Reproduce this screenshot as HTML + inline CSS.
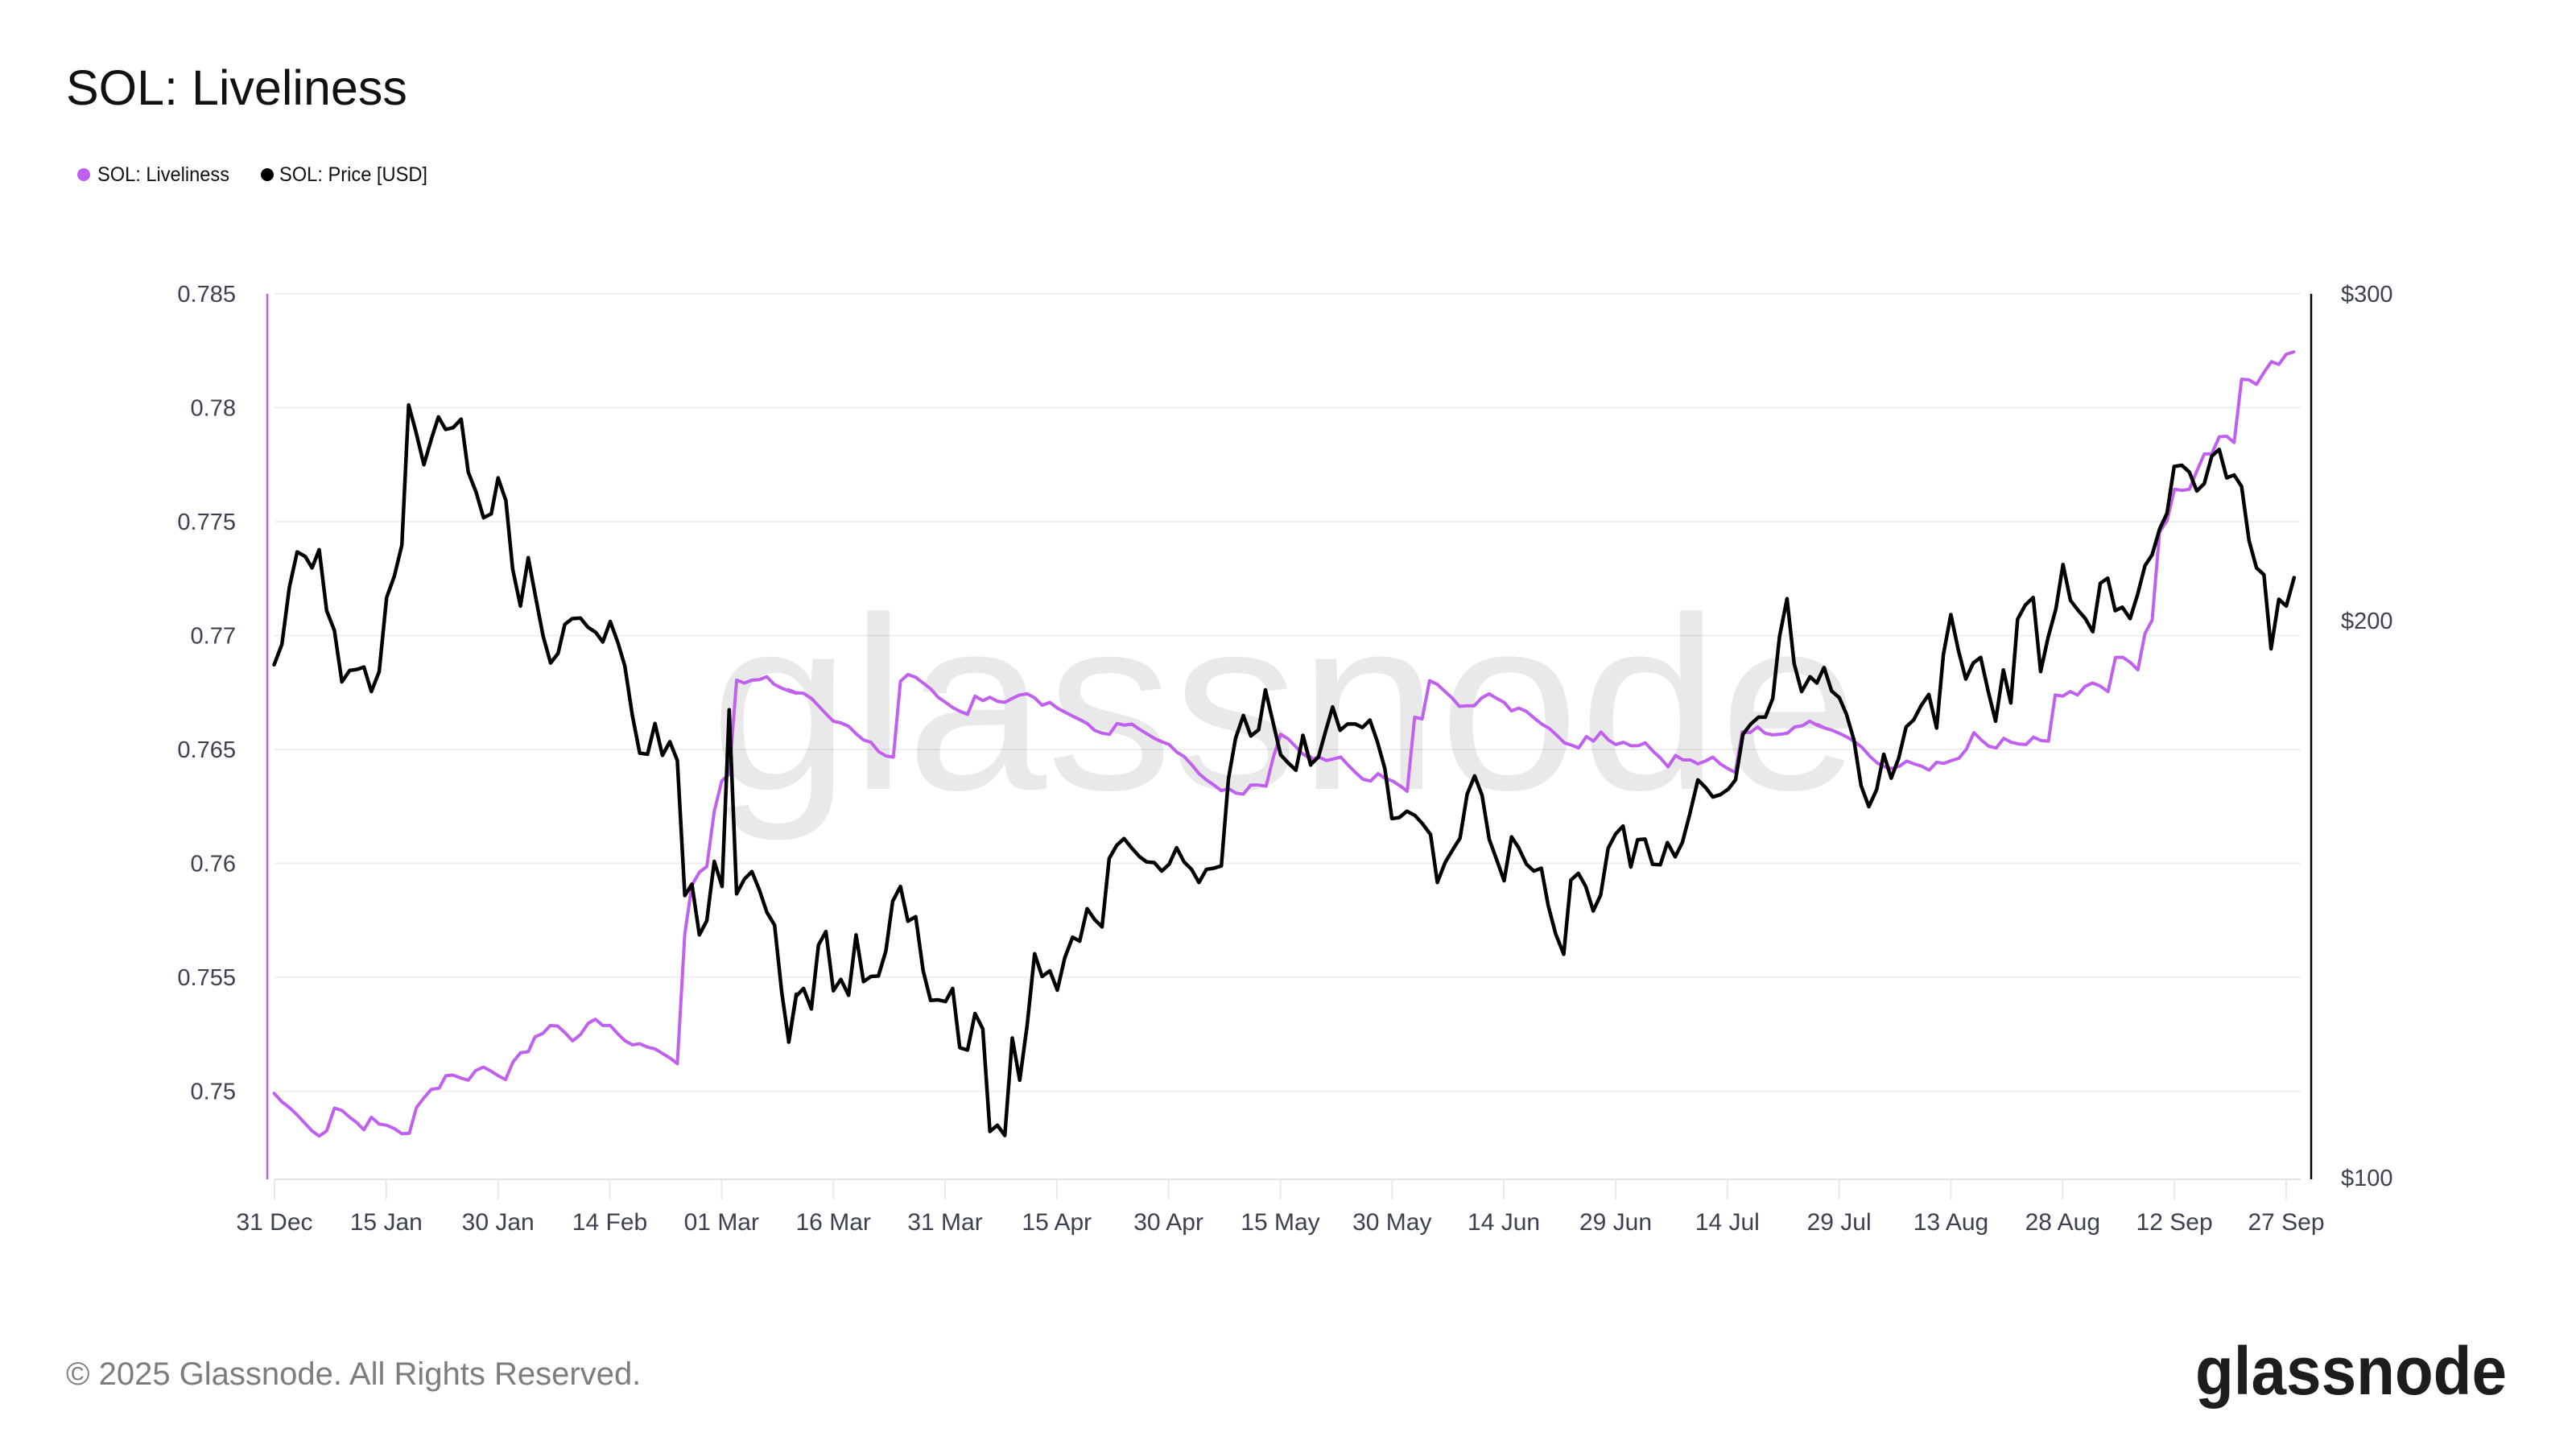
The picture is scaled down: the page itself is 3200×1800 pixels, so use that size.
<!DOCTYPE html>
<html>
<head>
<meta charset="utf-8">
<style>
html,body{margin:0;padding:0;background:#fff;}
svg{display:block;}
text{font-family:"Liberation Sans",Arial,sans-serif;}
</style>
</head>
<body>
<svg width="3200" height="1800" viewBox="0 0 3200 1800" xmlns="http://www.w3.org/2000/svg">
<rect width="3200" height="1800" fill="#fff"/>

<!-- Title -->
<text x="82" y="130" font-size="61" fill="#111">SOL: Liveliness</text>

<!-- Legend -->
<circle cx="104" cy="217" r="8" fill="#bf60ee"/>
<text x="121" y="225" font-size="25" fill="#111" textLength="164" lengthAdjust="spacingAndGlyphs">SOL: Liveliness</text>
<circle cx="332" cy="217" r="8" fill="#000"/>
<text x="347" y="225" font-size="25" fill="#111" textLength="184" lengthAdjust="spacingAndGlyphs">SOL: Price [USD]</text>

<!-- Gridlines -->
<g stroke="#efefef" stroke-width="2">
<line x1="341" y1="365" x2="2858" y2="365"/>
<line x1="341" y1="506.4" x2="2858" y2="506.4"/>
<line x1="341" y1="648" x2="2858" y2="648"/>
<line x1="341" y1="789.5" x2="2858" y2="789.5"/>
<line x1="341" y1="931" x2="2858" y2="931"/>
<line x1="341" y1="1072.5" x2="2858" y2="1072.5"/>
<line x1="341" y1="1214" x2="2858" y2="1214"/>
<line x1="341" y1="1355.5" x2="2858" y2="1355.5"/>
</g>

<!-- Watermark -->
<text x="882" y="980" font-size="306" fill="#000" fill-opacity="0.085" textLength="1428" lengthAdjust="spacingAndGlyphs">glassnode</text>

<!-- X axis -->
<line x1="341" y1="1465" x2="2858" y2="1465" stroke="#e2e2e2" stroke-width="2"/>
<g stroke="#e8e8e8" stroke-width="2">
<line x1="341" y1="1465" x2="341" y2="1490"/>
<line x1="479.8" y1="1465" x2="479.8" y2="1490"/>
<line x1="618.7" y1="1465" x2="618.7" y2="1490"/>
<line x1="757.5" y1="1465" x2="757.5" y2="1490"/>
<line x1="896.3" y1="1465" x2="896.3" y2="1490"/>
<line x1="1035.2" y1="1465" x2="1035.2" y2="1490"/>
<line x1="1174" y1="1465" x2="1174" y2="1490"/>
<line x1="1312.8" y1="1465" x2="1312.8" y2="1490"/>
<line x1="1451.6" y1="1465" x2="1451.6" y2="1490"/>
<line x1="1590.5" y1="1465" x2="1590.5" y2="1490"/>
<line x1="1729.3" y1="1465" x2="1729.3" y2="1490"/>
<line x1="1868.1" y1="1465" x2="1868.1" y2="1490"/>
<line x1="2007" y1="1465" x2="2007" y2="1490"/>
<line x1="2145.8" y1="1465" x2="2145.8" y2="1490"/>
<line x1="2284.6" y1="1465" x2="2284.6" y2="1490"/>
<line x1="2423.5" y1="1465" x2="2423.5" y2="1490"/>
<line x1="2562.3" y1="1465" x2="2562.3" y2="1490"/>
<line x1="2701.1" y1="1465" x2="2701.1" y2="1490"/>
<line x1="2840" y1="1465" x2="2840" y2="1490"/>
</g>
<g font-size="30" fill="#3c4150" text-anchor="middle">
<text x="341" y="1528">31 Dec</text>
<text x="479.8" y="1528">15 Jan</text>
<text x="618.7" y="1528">30 Jan</text>
<text x="757.5" y="1528">14 Feb</text>
<text x="896.3" y="1528">01 Mar</text>
<text x="1035.2" y="1528">16 Mar</text>
<text x="1174" y="1528">31 Mar</text>
<text x="1312.8" y="1528">15 Apr</text>
<text x="1451.6" y="1528">30 Apr</text>
<text x="1590.5" y="1528">15 May</text>
<text x="1729.3" y="1528">30 May</text>
<text x="1868.1" y="1528">14 Jun</text>
<text x="2007" y="1528">29 Jun</text>
<text x="2145.8" y="1528">14 Jul</text>
<text x="2284.6" y="1528">29 Jul</text>
<text x="2423.5" y="1528">13 Aug</text>
<text x="2562.3" y="1528">28 Aug</text>
<text x="2701.1" y="1528">12 Sep</text>
<text x="2840" y="1528">27 Sep</text>
</g>

<!-- Left axis -->
<line x1="332" y1="365" x2="332" y2="1465" stroke="#bf60ee" stroke-width="2.5"/>
<g font-size="29" fill="#3c4150" text-anchor="end">
<text x="293" y="375">0.785</text>
<text x="293" y="516.4">0.78</text>
<text x="293" y="658">0.775</text>
<text x="293" y="799.5">0.77</text>
<text x="293" y="941">0.765</text>
<text x="293" y="1082.5">0.76</text>
<text x="293" y="1224">0.755</text>
<text x="293" y="1365.5">0.75</text>
</g>

<!-- Right axis -->
<line x1="2871" y1="365" x2="2871" y2="1465" stroke="#000" stroke-width="2.5"/>
<g font-size="29" fill="#3c4150">
<text x="2908" y="375">$300</text>
<text x="2908" y="781">$200</text>
<text x="2908" y="1473">$100</text>
</g>

<!-- Liveliness (purple) -->
<g fill="none" stroke="#bf60ee" stroke-width="4" stroke-linejoin="round" stroke-linecap="round">
<g transform="translate(330,360) scale(0.42092,0.70791)">
<polyline vector-effect="non-scaling-stroke" points="25,1410 48,1425 70,1435 93,1448 115,1462 137,1476 158,1485 180,1476 203,1436 225,1440 248,1452 270,1462 290,1474 312,1452 335,1464 357,1466 380,1472 402,1481 424,1480 445,1435 467,1418 489,1403 512,1401 532,1379 553,1378 575,1383 598,1387 620,1370 643,1364 665,1371 686,1379 708,1386 730,1355 752,1339 775,1337 795,1311 818,1305 840,1291 862,1292 884,1304 906,1318 929,1307 952,1287 973,1280 995,1291 1017,1291 1040,1306 1061,1318 1083,1325 1104,1323 1127,1329 1149,1332 1171,1340 1193,1348 1215,1358 1237,1130 1258,1045 1280,1022 1302,1012 1324,915 1346,862 1368,850 1390,685 1413,690 1435,685 1457,684 1479,679 1500,692 1523,699 1545,704 1566,708"/>
</g>
<g transform="translate(970,360) scale(0.42092,0.70791)">
<polyline vector-effect="non-scaling-stroke" points="23,702 45,707 67,708 90,717 111,730 133,744 155,757 177,760 200,766 222,779 244,790 266,794 288,810 310,818 332,820 353,687 375,675 398,680 420,690 442,700 464,715 486,724 507,733 530,740 551,745 573,713 596,721 617,715 639,722 661,724 683,717 705,711 727,709 749,716 771,729 794,724 816,734 838,741 861,748 882,754 904,761 926,773 948,778 970,780 992,761 1014,764 1036,762 1058,771 1080,779 1102,787 1124,793 1146,798 1168,811 1190,819 1212,833 1234,849 1256,860 1278,869 1300,879 1321,875 1342,883 1365,885 1387,869 1410,869 1432,871 1453,821 1475,780 1497,788 1520,802 1541,815 1564,820"/>
</g>
<g transform="translate(1610,360) scale(0.42092,0.70791)">
<polyline vector-effect="non-scaling-stroke" points="22,815 45,824 67,820 90,826 112,823 132,820 155,835 177,848 198,859 220,862 242,849 262,857 285,862 306,870 328,880 350,750 372,753 394,686 416,692 438,704 460,716 482,731 504,730 526,730 548,716 570,709 592,717 614,724 636,739 657,734 680,740 702,751 725,762 748,770 770,782 792,795 813,799 834,804 857,784 878,792 900,776 922,790 944,798 966,794 988,800 1010,800 1031,795 1054,810 1076,822 1098,837 1120,817 1142,825 1164,825 1186,832 1208,827 1230,820 1252,832 1274,840 1296,847 1317,776 1340,777 1362,767 1384,778 1406,781 1428,780 1450,778 1472,767 1494,765 1516,757 1538,764 1560,769"/>
</g>
<g transform="translate(2250,360) scale(0.42092,0.70791)">
<polyline vector-effect="non-scaling-stroke" points="20,763 40,769 62,773 85,779 106,785 128,793 150,803 172,818 194,830 216,837 238,840 260,836 282,827 304,832 326,836 348,843 370,829 392,831 414,826 436,822 458,806 480,777 502,790 524,801 546,804 568,787 590,794 612,797 634,798 656,785 678,791 700,792 720,711 742,713 764,705 786,711 808,696 830,690 852,695 876,705 898,645 920,645 942,654 964,667 985,603 1006,580 1028,425 1050,405 1072,350 1094,352 1116,350 1138,318 1160,288 1182,288 1204,258 1226,257 1248,268 1270,157 1292,158 1314,166 1336,145 1358,126 1380,131 1402,113 1424,109"/>
</g>
</g>

<!-- Price (black) -->
<g fill="none" stroke="#000" stroke-width="4.5" stroke-linejoin="round" stroke-linecap="round">
<g transform="translate(330,360) scale(0.42092,0.70791)">
<polyline vector-effect="non-scaling-stroke" points="25,658 48,622 70,522 93,460 117,468 137,488 158,456 180,563 203,598 225,688 248,668 270,666 290,662 312,705 335,670 357,540 380,502 402,448 422,202 443,248 467,307 489,262 510,223 531,245 553,242 577,227 598,320 621,355 643,400 666,393 686,330 709,370 729,490 752,555 775,470 797,540 819,608 841,655 863,638 883,587 905,577 929,576 951,592 974,601 995,618 1017,582 1040,620 1060,660 1082,746 1104,813 1127,815 1149,761 1171,817 1193,793 1215,826 1237,1063 1258,1043 1280,1132 1302,1107 1324,1003 1347,1047 1368,737 1390,1060 1413,1034 1435,1021 1457,1053 1479,1092 1502,1115 1523,1232 1544,1320 1566,1236"/>
</g>
<g transform="translate(970,360) scale(0.42092,0.70791)">
<polyline vector-effect="non-scaling-stroke" points="23,1320 45,1240 67,1226 90,1262 111,1150 133,1126 155,1230 177,1210 200,1238 222,1132 244,1214 266,1205 288,1204 310,1160 330,1073 353,1047 375,1108 398,1100 420,1195 442,1247 464,1246 486,1249 507,1226 528,1330 551,1334 573,1270 596,1297 617,1477 639,1466 661,1484 683,1313 705,1387 727,1290 749,1165 771,1205 794,1195 816,1229 838,1172 861,1136 882,1143 904,1086 926,1105 948,1118 969,998 991,975 1013,963 1036,980 1059,995 1080,1004 1102,1005 1124,1020 1146,1008 1168,979 1190,1004 1212,1017 1234,1040 1256,1017 1278,1015 1300,1011 1321,858 1342,787 1365,747 1387,783 1410,772 1430,702 1451,755 1475,816 1497,830 1520,843 1541,782 1564,834"/>
</g>
<g transform="translate(1610,360) scale(0.42092,0.70791)">
<polyline vector-effect="non-scaling-stroke" points="20,782 43,833 66,820 87,775 108,732 130,773 152,762 175,762 196,768 218,755 240,793 262,840 283,928 305,926 327,915 350,922 372,936 397,956 417,1040 440,1005 462,983 484,962 505,885 527,853 549,887 570,964 592,1000 614,1037 636,960 656,978 680,1008 702,1020 724,1015 744,1080 766,1130 790,1166 811,1036 833,1024 855,1047 877,1090 899,1062 921,980 943,955 965,941 988,1013 1008,965 1030,964 1052,1008 1075,1009 1096,970 1119,995 1140,970 1162,920 1186,860 1208,873 1230,890 1252,886 1276,876 1297,860 1319,780 1342,762 1365,750 1385,750 1407,717 1427,608 1449,542 1470,656 1492,705 1517,679 1537,690 1558,663"/>
</g>
<g transform="translate(2250,360) scale(0.42092,0.70791)">
<polyline vector-effect="non-scaling-stroke" points="38,663 60,704 83,716 104,745 126,790 147,870 170,907 193,877 214,815 236,857 258,822 280,767 302,755 324,730 347,710 370,769 390,640 412,570 434,632 456,683 478,655 500,645 522,704 544,757 567,667 589,725 609,578 632,553 655,540 677,670 699,610 722,560 743,482 765,545 787,562 809,577 831,600 853,515 875,506 897,563 918,557 941,577 963,535 985,484 1006,465 1028,420 1050,392 1071,310 1094,308 1116,320 1138,353 1160,340 1182,292 1204,280 1226,330 1248,325 1270,345 1292,440 1314,488 1336,500 1357,630 1380,543 1402,555 1425,505"/>
</g>
</g>

<!-- Footer -->
<text x="82" y="1720" font-size="40" fill="#7d7d7d">© 2025 Glassnode. All Rights Reserved.</text>
<text x="2727" y="1732" font-size="84" font-weight="bold" fill="#1d1d1d" textLength="387" lengthAdjust="spacingAndGlyphs">glassnode</text>
</svg>
</body>
</html>
